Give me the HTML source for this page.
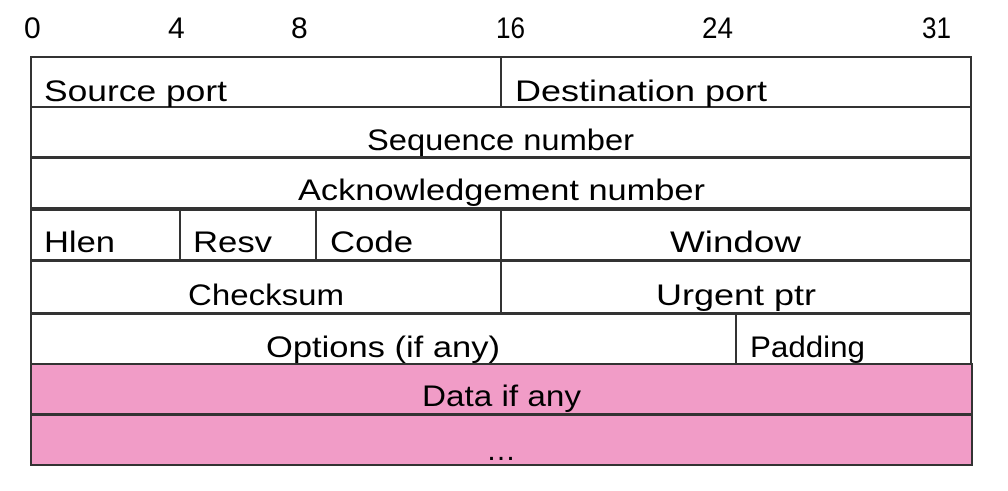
<!DOCTYPE html>
<html><head><meta charset="utf-8"><style>
body{margin:0;background:#fff;width:1008px;height:486px;overflow:hidden}
svg text{font-family:"Liberation Sans",sans-serif;font-size:30px;fill:#000}
</style></head><body>
<svg width="1008" height="486" xmlns="http://www.w3.org/2000/svg">
<g stroke="#333" stroke-width="2" fill="#fff">
<rect x="31" y="57" width="940" height="50"/>
<rect x="31" y="107" width="940" height="50"/>
<rect x="31" y="158" width="940" height="50"/>
<rect x="31" y="210" width="940" height="50"/>
<rect x="31" y="261" width="940" height="52"/>
<rect x="31" y="314" width="940" height="50"/>
<rect x="31" y="364" width="941" height="50" fill="#f19cc7"/>
<rect x="31" y="415" width="941" height="50" fill="#f19cc7"/>
<line x1="501" y1="57" x2="501" y2="107"/>
<line x1="180" y1="210" x2="180" y2="260"/>
<line x1="316" y1="210" x2="316" y2="260"/>
<line x1="501" y1="210" x2="501" y2="313"/>
<line x1="736" y1="314" x2="736" y2="364"/>
</g>
<g style="font-size:28px">
<text x="24" y="38">0</text>
<text x="168" y="38">4</text>
<text x="291" y="38">8</text>
<text x="496" y="38" textLength="29" lengthAdjust="spacingAndGlyphs">16</text>
<text x="702" y="38" textLength="31" lengthAdjust="spacingAndGlyphs">24</text>
<text x="922" y="38" textLength="29" lengthAdjust="spacingAndGlyphs">31</text>
</g>
<text x="44" y="101" textLength="183" lengthAdjust="spacingAndGlyphs">Source port</text>
<text x="515" y="101" textLength="252" lengthAdjust="spacingAndGlyphs">Destination port</text>
<text x="367" y="150" textLength="267" lengthAdjust="spacingAndGlyphs">Sequence number</text>
<text x="298" y="200" textLength="407" lengthAdjust="spacingAndGlyphs">Acknowledgement number</text>
<text x="44" y="252" textLength="71" lengthAdjust="spacingAndGlyphs">Hlen</text>
<text x="193" y="252" textLength="79" lengthAdjust="spacingAndGlyphs">Resv</text>
<text x="330" y="252" textLength="83" lengthAdjust="spacingAndGlyphs">Code</text>
<text x="670" y="252" textLength="131" lengthAdjust="spacingAndGlyphs">Window</text>
<text x="188" y="305" textLength="156" lengthAdjust="spacingAndGlyphs">Checksum</text>
<text x="656" y="305" textLength="160" lengthAdjust="spacingAndGlyphs">Urgent ptr</text>
<text x="266" y="357" textLength="234" lengthAdjust="spacingAndGlyphs">Options (if any)</text>
<text x="750" y="357" textLength="115" lengthAdjust="spacingAndGlyphs">Padding</text>
<text x="422" y="406" textLength="159" lengthAdjust="spacingAndGlyphs">Data if any</text>
<text x="501" y="460" text-anchor="middle">…</text>
</svg>
</body></html>
